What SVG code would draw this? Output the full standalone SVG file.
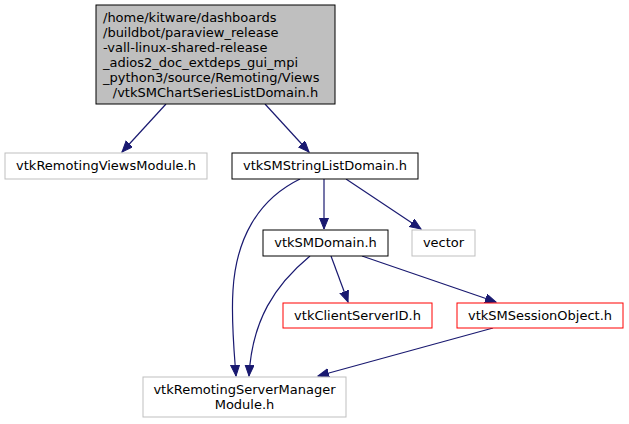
<svg xmlns="http://www.w3.org/2000/svg" width="629" height="424" viewBox="0 0 629 424">
<style>
text{font-family:"DejaVu Sans",sans-serif;font-size:13px;fill:#000}
.m{text-anchor:middle}
.n{fill:#fff;stroke:#000}
.g{fill:#fff;stroke:#bfbfbf}
.r{fill:#fff;stroke:#ff0000}
.e{fill:none;stroke:#191970;stroke-width:1.2}
</style>
<defs>
<marker id="a" markerUnits="userSpaceOnUse" markerWidth="13" markerHeight="11" refX="11" refY="4.5" orient="auto">
<path d="M0,0 L11,4.5 L0,9 Z" fill="#191970" stroke="#191970"/>
</marker>
</defs>
<g id="edges">
<path class="e" marker-end="url(#a)" d="M166,104 L122,152"/>
<path class="e" marker-end="url(#a)" d="M265,104 L309,152"/>
<path class="e" marker-end="url(#a)" d="M300,179 C257,200 236,240 233,290 C231,320 234,350 236,376"/>
<path class="e" marker-end="url(#a)" d="M324,179 L324,229"/>
<path class="e" marker-end="url(#a)" d="M346,179 L421,229"/>
<path class="e" marker-end="url(#a)" d="M310,256 C275,285 252,320 249,376"/>
<path class="e" marker-end="url(#a)" d="M331,256 L348,302"/>
<path class="e" marker-end="url(#a)" d="M362,256 L496,302"/>
<path class="e" marker-end="url(#a)" d="M493,328 L318,376"/>
</g>
<g id="node_main">
<rect x="96" y="5" width="239" height="99" fill="#bfbfbf" stroke="#000"/>
<text x="103" y="22">/home/kitware/dashboards</text>
<text x="103" y="37">/buildbot/paraview_release</text>
<text x="103" y="52">-vall-linux-shared-release</text>
<text x="103" y="67">_adios2_doc_extdeps_gui_mpi</text>
<text x="103" y="82">_python3/source/Remoting/Views</text>
<text class="m" x="215.5" y="97">/vtkSMChartSeriesListDomain.h</text>
</g>
<g id="node_views_module">
<rect class="g" x="5" y="153" width="202" height="26"/>
<text class="m" x="106" y="170">vtkRemotingViewsModule.h</text>
</g>
<g id="node_string_list">
<rect class="n" x="232" y="153" width="186" height="26"/>
<text class="m" x="325" y="170">vtkSMStringListDomain.h</text>
</g>
<g id="node_domain">
<rect class="n" x="263" y="230" width="125" height="26"/>
<text class="m" x="325.5" y="247">vtkSMDomain.h</text>
</g>
<g id="node_vector">
<rect class="g" x="412" y="230" width="63" height="26"/>
<text class="m" x="443.5" y="247">vector</text>
</g>
<g id="node_csid">
<rect class="r" x="283" y="303" width="149" height="25"/>
<text class="m" x="357.5" y="320">vtkClientServerID.h</text>
</g>
<g id="node_session">
<rect class="r" x="457" y="303" width="166" height="25"/>
<text class="m" x="540" y="320">vtkSMSessionObject.h</text>
</g>
<g id="node_rsmm">
<rect class="g" x="143" y="377" width="203" height="40"/>
<text class="m" x="244.5" y="394">vtkRemotingServerManager</text>
<text class="m" x="244.5" y="409">Module.h</text>
</g>
</svg>
